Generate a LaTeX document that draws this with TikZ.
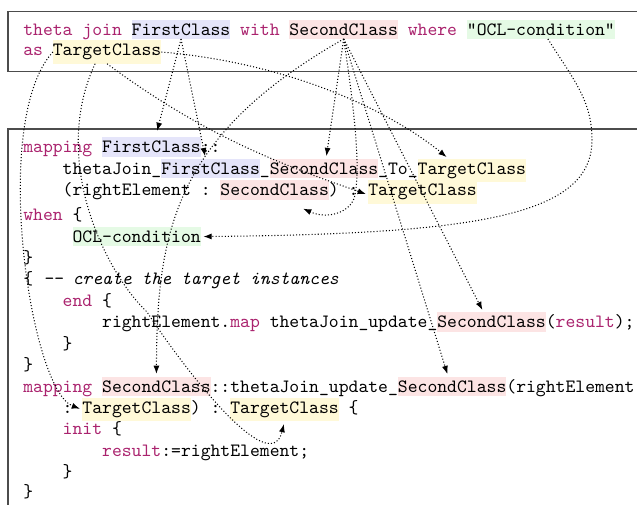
\documentclass[tikz,border=0pt]{standalone}
\usepackage{fontspec}
\usetikzlibrary{arrows.meta,calc}
\definecolor{kwc}{RGB}{170,35,110}
\definecolor{hlblue}{RGB}{229,229,250}
\definecolor{hlred}{RGB}{252,228,228}
\definecolor{hlgreen}{RGB}{229,250,229}
\definecolor{hlyellow}{RGB}{255,249,216}
\frenchspacing
% x position of a monospaced column
\newcommand\cx[1]{23.3+9.859*#1}
\begin{document}
\begin{tikzpicture}[x=0.5325pt,y=-0.5325pt,
  every node/.style={font=\ttfamily},
  pl/.style={inner sep=0pt, outer sep=0pt, anchor=base west},
  kw/.style={pl, text=kwc},
  comment/.style={pl, font=\ttfamily\itshape},
  hl/.style={pl, fill=#1, inner ysep=2pt},
  frame/.style={draw=black!70, line width=0.8pt},
  conn/.style={line width=0.55pt, dash pattern=on 0.55pt off 1.1pt,
    -{Latex[length=4.4pt,width=3.2pt]}, shorten >=1.4pt}]
\useasboundingbox (0,0) rectangle (637,505);

% frames
\draw[frame] (8,11.7) rectangle (660,71.7);
\draw[frame] (8,129) rectangle (660,540);

% rule text
\node[kw] (t1) at ({\cx{0}},35) {theta join};
\node[hl=hlblue] (tFC) at ({\cx{11}},35) {FirstClass};
\node[kw] (t2) at ({\cx{22}},35) {with};
\node[hl=hlred] (tSC) at ({\cx{27}},35) {SecondClass};
\node[kw] (t3) at ({\cx{39}},35) {where};
\node[hl=hlgreen] (tOCL) at ({\cx{45}},35) {"OCL-condition"};
\node[kw] (t4) at ({\cx{0}},55.7) {as};
\node[hl=hlyellow] (tTC) at ({\cx{3}},55.7) {TargetClass};

% generated QVT code
\node[kw] (b1) at ({\cx{0}},152.9) {mapping};
\node[hl=hlblue] (bFCa) at ({\cx{8}},152.9) {FirstClass};
\node[pl] (b2) at ({\cx{18}},152.9) {::};

\node[pl] (b3) at ({\cx{4}},174.2) {thetaJoin\_};
\node[hl=hlblue] (bFCb) at ({\cx{14}},174.2) {FirstClass};
\node[pl] (b4) at ({\cx{24}},174.2) {\_};
\node[hl=hlred] (bSCb) at ({\cx{25}},174.2) {SecondClass};
\node[pl] (b5) at ({\cx{36}},174.2) {\_To\_};
\node[hl=hlyellow] (bTCb) at ({\cx{40}},174.2) {TargetClass};

\node[pl] (b6) at ({\cx{4}},195.6) {(rightElement :};
\node[hl=hlred] (bSCc) at ({\cx{20}},195.6) {SecondClass};
\node[pl] (b7) at ({\cx{31}},195.6) {) :};
\node[hl=hlyellow] (bTCc) at ({\cx{35}},195.6) {TargetClass};

\node[kw] (b8) at ({\cx{0}},220.5) {when};
\node[pl] (b9) at ({\cx{5}},220.5) {\{};
\node[hl=hlgreen] (bOCL) at ({\cx{5}},242.3) {OCL-condition};
\node[pl] (b10) at ({\cx{0}},263.5) {\}};
\node[pl] (b11) at ({\cx{0}},284.8) {\{};
\node[comment] (b12) at ({\cx{2}},284.8) {-\kern0pt- create the target instances};
\node[kw] (b13) at ({\cx{4}},306.3) {end};
\node[pl] (b14) at ({\cx{8}},306.3) {\{};

\node[pl] (b15) at ({\cx{8}},327.8) {rightElement.};
\node[kw] (b16) at ({\cx{21}},327.8) {map};
\node[pl] (b17) at ({\cx{25}},327.8) {thetaJoin\_update\_};
\node[hl=hlred] (bSCi) at ({\cx{42}},327.8) {SecondClass};
\node[pl] (b18) at ({\cx{53}},327.8) {(};
\node[kw] (b19) at ({\cx{54}},327.8) {result};
\node[pl] (b20) at ({\cx{60}},327.8) {);};
\node[pl] (b21) at ({\cx{4}},349.2) {\}};
\node[pl] (b22) at ({\cx{0}},370.6) {\}};

\node[kw] (b23) at ({\cx{0}},392) {mapping};
\node[hl=hlred] (bSCl1) at ({\cx{8}},392) {SecondClass};
\node[pl] (b24) at ({\cx{19}},392) {::thetaJoin\_update\_};
\node[hl=hlred] (bSCl2) at ({\cx{38}},392) {SecondClass};
\node[pl] (b25) at ({\cx{49}},392) {(rightElement};

\node[pl] (b26) at ({\cx{4}},413.4) {:};
\node[hl=hlyellow] (bTCm1) at ({\cx{6}},413.4) {TargetClass};
\node[pl] (b27) at ({\cx{17}},413.4) {) :};
\node[hl=hlyellow] (bTCm2) at ({\cx{21}},413.4) {TargetClass};
\node[pl] (b28) at ({\cx{33}},413.4) {\{};

\node[kw] (b29) at ({\cx{4}},434.8) {init};
\node[pl] (b30) at ({\cx{9}},434.8) {\{};
\node[kw] (b31) at ({\cx{8}},456) {result};
\node[pl] (b32) at ({\cx{14}},456) {:=rightElement;};
\node[pl] (b33) at ({\cx{4}},477) {\}};
\node[pl] (b34) at ({\cx{0}},497.8) {\}};

% traceability links
\draw[conn] (tFC.south) -- ($(bFCa.north)+(5,-4)$);
\draw[conn] (tFC.south) -- ($(bFCb.north)+(-5,0)$);
\draw[conn] (tSC.south) -- ($(bSCb.north)+(2,0)$);
\draw[conn] (tSC.south) .. controls (356,120) and (360,170) .. (355,195)
  .. controls (352,212) and (328,220) .. ($(bSCc.south)+(26,8)$);
\draw[conn] (tSC.south) -- ($(bSCi.north)+(-8,0)$);
\draw[conn] (tSC.south) .. controls (175,135) and (157,230) .. (bSCl1.north);
\draw[conn] (tSC.south) -- ($(bSCl2.north)+(-4,0)$);
\draw[conn] (tTC.east) .. controls (300,64) and (398,117) .. ($(bTCb.north west)+(31,0)$);
\draw[conn] (tTC.south) .. controls (207,138) and (286,166) .. ($(bTCc.west)+(0,3)$);
\draw[conn] (tTC.west) .. controls (-10,120) and (30,390) .. (bTCm1.west);
\draw[conn] ($(tTC.south)+(-12,0)$) .. controls (50,160) and (105,272) .. (147,312)
  .. controls (185,370) and (270,480) .. (bTCm2.south);
\draw[conn] ($(tOCL.south)+(7,0)$) .. controls (573,79) and (592,100) .. (592,140)
  .. controls (592,215) and (480,234) .. (bOCL.east);
\end{tikzpicture}
\end{document}
